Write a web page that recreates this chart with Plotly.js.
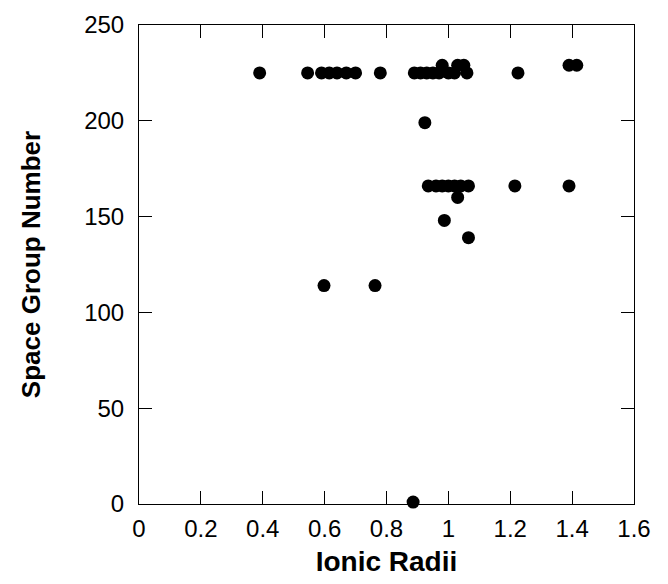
<!DOCTYPE html>
<html>
<head>
<meta charset="utf-8">
<script src="https://cdn.plot.ly/plotly-3.0.1.min.js"></script>
<style>html,body{margin:0;padding:0;background:#fff;}#chart{width:668px;height:584px;}</style>
</head>
<body>
<div id="chart"></div>
<script>
// Ionic radii (x) and space group numbers (y)
const ionicRadii = [
  0.39, 0.545, 0.59, 0.615, 0.64, 0.67, 0.70, 0.78,
  0.89, 0.91, 0.93, 0.95, 0.97, 1.00, 1.02, 1.06, 1.225,
  0.98, 1.03, 1.05, 1.39, 1.415,
  0.924,
  0.935, 0.96, 0.98, 1.00, 1.02, 1.04, 1.065, 1.215, 1.39,
  1.03, 0.987, 1.065,
  0.598, 0.763,
  0.886
];
const spaceGroup = [
  225, 225, 225, 225, 225, 225, 225, 225,
  225, 225, 225, 225, 225, 225, 225, 225, 225,
  229, 229, 229, 229, 229,
  199,
  166, 166, 166, 166, 166, 166, 166, 166, 166,
  160, 148, 139,
  114, 114,
  1
];
const xTicks = [0, 0.2, 0.4, 0.6, 0.8, 1, 1.2, 1.4, 1.6];
const xTickText = ['0', '0.2', '0.4', '0.6', '0.8', '1', '1.2', '1.4', '1.6'];
const yTicks = [0, 50, 100, 150, 200, 250];

const font = 'Liberation Sans, Arial, Helvetica, sans-serif';

Plotly.newPlot('chart', [{
  x: ionicRadii,
  y: spaceGroup,
  type: 'scatter',
  mode: 'markers',
  marker: {color: '#000', size: 13},
  cliponaxis: false,
  hoverinfo: 'x+y'
}], {
  width: 668,
  height: 584,
  margin: {l: 139, r: 34, t: 25, b: 80},
  paper_bgcolor: '#fff',
  plot_bgcolor: '#fff',
  showlegend: false,
  font: {family: font, color: '#000'},
  xaxis: {
    range: [0, 1.6],
    tickvals: xTicks,
    ticktext: xTickText,
    ticks: 'inside',
    ticklen: 13,
    tickwidth: 1,
    tickcolor: '#000',
    mirror: 'allticks',
    showline: true,
    linecolor: '#000',
    linewidth: 1,
    showgrid: false,
    zeroline: false,
    tickfont: {size: 24, family: font, color: '#000'},
    ticklabelstandoff: 3,
    title: {text: '<b>Ionic Radii</b>', font: {size: 28, family: font, color: '#000'}, standoff: 10},
    automargin: false
  },
  yaxis: {
    range: [0, 250],
    tickvals: yTicks,
    ticks: 'inside',
    ticklen: 13,
    tickwidth: 1,
    tickcolor: '#000',
    mirror: 'allticks',
    showline: true,
    linecolor: '#000',
    linewidth: 1,
    showgrid: false,
    zeroline: false,
    tickfont: {size: 24, family: font, color: '#000'},
    ticklabelstandoff: 9,
    title: {text: '<b>Space Group Number</b>', font: {size: 26, family: font, color: '#000'}, standoff: 36},
    automargin: false
  }
}, {staticPlot: true});
</script>
</body>
</html>
